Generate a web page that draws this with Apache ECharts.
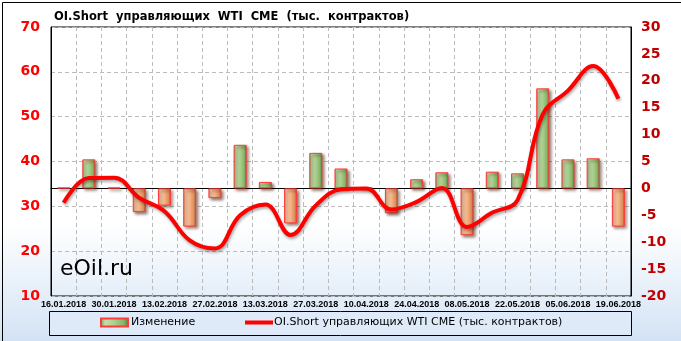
<!DOCTYPE html>
<html><head><meta charset="utf-8">
<script src="https://cdn.jsdelivr.net/npm/echarts@6/dist/echarts.min.js"></script>
<style>html,body{margin:0;padding:0;background:#fff}#c{width:681px;height:341px}</style>
</head><body><div id="c"></div>
<script>
var categories = ['16.01.2018','23.01.2018','30.01.2018','06.02.2018','13.02.2018','20.02.2018','27.02.2018','06.03.2018','13.03.2018','20.03.2018','27.03.2018','03.04.2018','10.04.2018','17.04.2018','24.04.2018','01.05.2018','08.05.2018','15.05.2018','22.05.2018','29.05.2018','05.06.2018','12.06.2018','19.06.2018'];
var changeValues = [0.15, 5.4, 0.15, -4.4, -3.2, -7.1, -1.8, 8.1, 1.2, -6.5, 6.6, 3.7, 0.15, -4.6, 1.7, 3.0, -8.7, 3.1, 2.8, 18.6, 5.4, 5.6, -7.1];
var oiShortValues = [30.8, 36.3, 36.4, 31.9, 28.9, 22.4, 20.6, 28.0, 30.4, 23.6, 30.2, 33.8, 34.0, 29.3, 31.0, 34.1, 25.4, 28.6, 31.4, 50.5, 55.8, 61.3, 54.0];
var leftTicks = {min: 10, max: 70, interval: 10};
var rightTicks = {min: -20, max: 30, interval: 5};
var seriesNames = ['Изменение', 'OI.Short управляющих WTI CME (тыс. контрактов)'];
var titleText = 'OI.Short  управляющих  WTI  CME  (тыс.  контрактов)';

var FONT = 'Verdana, "DejaVu Sans", sans-serif';
function grad(stops){
  return new echarts.graphic.LinearGradient(0,0,1,0, stops.map(function(s){return {offset:s[0], color:s[1]};}));
}
var greenFill = grad([[0,'#6f9955'],[0.18,'#c3e0ab'],[0.5,'#a9d08e'],[0.82,'#86b566'],[1,'#4f7538']]);
var orangeFill = grad([[0,'#cf7a45'],[0.18,'#fdd0ae'],[0.5,'#f6b385'],[0.82,'#dd8e5b'],[1,'#9a5530']]);

var barData = changeValues.map(function(v){
  return {value: v, itemStyle: {color: v < 0 ? orangeFill : greenFill}};
});

var chart = echarts.init(document.getElementById('c'), null, {renderer:'canvas'});
chart.setOption({
  animation: false,
  backgroundColor: new echarts.graphic.LinearGradient(0,0,0,1,[{offset:0,color:'#ffffff'},{offset:0.66,color:'#ffffff'},{offset:1,color:'#d3e3f5'}]),
  title: {text: titleText, left: 49, top: 6, textStyle: {fontFamily: FONT, fontSize: 11.5, fontWeight: 'bold', color: '#000'}},
  graphic: [
    {type:'rect', left:0, top:0, shape:{x:0.5,y:0.5,width:679,height:339}, style:{fill:'none', stroke:'#000', lineWidth:1}, silent:true, z:-1},
    {type:'rect', shape:{x:49.5,y:311.5,width:582,height:24}, style:{fill:'#dfeaf8', stroke:'#000', lineWidth:1}, silent:true, z:-1},
    {type:'text', left: 60, top: 258, style:{text:'eOil.ru', font:'22px Verdana, "DejaVu Sans", sans-serif', fill:'#000'}, z: 10}
  ],
  legend: [
    {data:[seriesNames[0]], left: 100, top: 317, padding: 0, itemWidth: 27, itemHeight: 8, textStyle:{fontFamily: FONT, fontSize: 11, color:'#000', padding:[0,0,0,-2]}, icon: 'rect'},
    {data:[{name: seriesNames[1], icon: 'rect'}], left: 245, top: 317, padding: 0, itemWidth: 28, itemHeight: 4, textStyle:{fontFamily: FONT, fontSize: 11, color:'#000', padding:[0,0,0,-4]}}
  ],
  grid: {left: 51, right: 50, top: 27, bottom: 45, show: true, borderColor: '#000', borderWidth: 1, backgroundColor: 'transparent'},
  xAxis: {
    type: 'category', data: categories, boundaryGap: true,
    axisLine: {show: true, lineStyle: {color:'#000'}},
    axisTick: {show: false},
    axisLabel: {interval: 1, margin: 4, showMinLabel: true, hideOverlap: false, fontFamily: '"Liberation Sans", Arial, sans-serif', fontSize: 9, fontWeight: 'bold', color: '#000'},
    splitLine: {show: true, interval: 0, lineStyle: {color: '#bbbbbb', type: [4,3]}}
  },
  yAxis: [
    {type: 'value', min: leftTicks.min, max: leftTicks.max, interval: leftTicks.interval, position: 'left',
     axisLine: {show: true, lineStyle:{color:'#000'}}, axisTick: {show: false},
     axisLabel: {margin: 11, fontFamily: FONT, fontSize: 14, fontWeight: 'bold', color: '#ff0000'},
     splitLine: {show: true, lineStyle: {color: '#bbbbbb', type: [4,3]}}},
    {type: 'value', min: rightTicks.min, max: rightTicks.max, interval: rightTicks.interval, position: 'right',
     axisLine: {show: true, lineStyle:{color:'#000'}}, axisTick: {show: false},
     axisLabel: {margin: 10, fontFamily: FONT, fontSize: 14, fontWeight: 'bold', color: '#c00000'},
     splitLine: {show: false}}
  ],
  series: [
    {name: seriesNames[0], type: 'bar', yAxisIndex: 1, data: barData, barWidth: 13,
     itemStyle: {color: greenFill, borderColor: '#ff3b3b', borderWidth: 1, shadowColor: 'rgba(60,20,0,0.6)', shadowBlur: 3, shadowOffsetX: 2, shadowOffsetY: 2}},
    {name: seriesNames[1], type: 'line', yAxisIndex: 0, data: oiShortValues, smooth: 0.4, symbol: 'none',
     lineStyle: {color: '#ff0000', width: 4, shadowColor: 'rgba(0,0,0,0.35)', shadowBlur: 3, shadowOffsetX: 1, shadowOffsetY: 2},
     itemStyle: {color: '#ff0000'}, z: 5}
  ]
});
</script></body></html>
